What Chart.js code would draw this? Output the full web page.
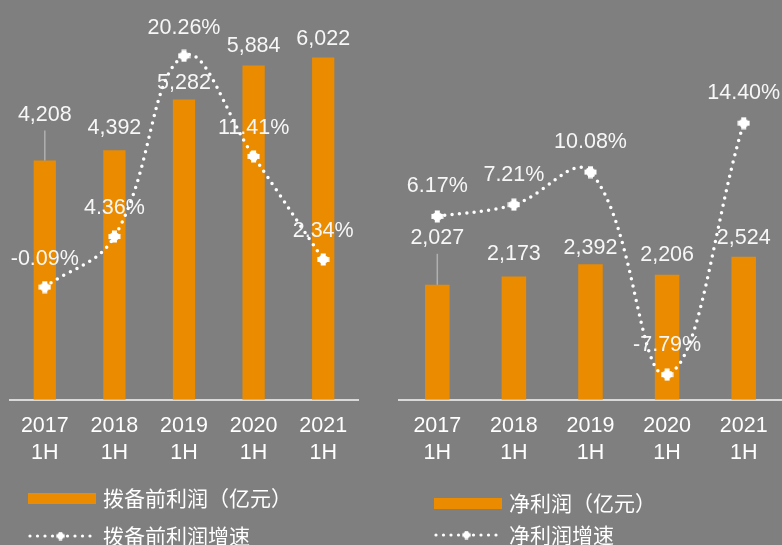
<!DOCTYPE html>
<html><head><meta charset="utf-8">
<script src="https://cdn.jsdelivr.net/npm/chart.js@4/dist/chart.umd.min.js"></script>
<style>
html,body{margin:0;padding:0;background:#7f7f7f;width:782px;height:545px;overflow:hidden;}
#wrap{position:relative;width:782px;height:545px;background:#7f7f7f;}
canvas.cv{position:absolute;top:0;}
.leg{position:absolute;font-family:"Noto Sans CJK SC";font-size:21px;line-height:21px;color:#fff;white-space:nowrap;}
.rect{position:absolute;width:68px;height:11px;background:#EA8B00;}
canvas.lg{position:absolute;}
</style></head>
<body><div id="wrap">
<canvas id="c1" class="cv" width="390" height="490" style="left:0"></canvas>
<canvas id="c2" class="cv" width="392" height="490" style="left:390px"></canvas>
<div class="rect" style="left:28px;top:493px"></div>
<div class="leg" id="l1" style="left:103px;top:487px"></div>
<canvas class="lg" id="d1" width="70" height="14" style="left:27px;top:529px"></canvas>
<div class="leg" id="l2" style="left:103px;top:525px"></div>
<div class="rect" style="left:434px;top:498px"></div>
<div class="leg" id="l3" style="left:509px;top:492px"></div>
<canvas class="lg" id="d2" width="70" height="14" style="left:433px;top:528px"></canvas>
<div class="leg" id="l4" style="left:509px;top:524px"></div>
</div>
<script>
const categories = [['2017','1H'],['2018','1H'],['2019','1H'],['2020','1H'],['2021','1H']];
const ppopValues = [4208, 4392, 5282, 5884, 6022];
const ppopGrowth = [-0.09, 4.36, 20.26, 11.41, 2.34];
const netValues = [2027, 2173, 2392, 2206, 2524];
const netGrowth = [6.17, 7.21, 10.08, -7.79, 14.40];
const ppopBarName = '拨备前利润（亿元）';
const ppopLineName = '拨备前利润增速';
const netBarName = '净利润（亿元）';
const netLineName = '净利润增速';

const ORANGE = '#EA8B00';

function makeMarker(size){
  const c = document.createElement('canvas'); c.width = c.height = size;
  const g = c.getContext('2d'); g.fillStyle = '#fff';
  const s = size/13;
  g.fillRect(4*s, 0.5*s, 5*s, 12*s);
  g.fillRect(0.5*s, 4*s, 12*s, 5*s);
  g.beginPath(); g.arc(6.5*s, 6.5*s, 4.6*s, 0, Math.PI*2); g.fill();
  return c;
}
const marker = makeMarker(13);

const labelPlugin = {
  id: 'valueLabels',
  afterDatasetsDraw(chart, args, o){
    const ctx = chart.ctx; ctx.save();
    ctx.font = '21.5px "Liberation Sans", Arial, sans-serif';
    ctx.fillStyle = '#f7f7f7'; ctx.textAlign = 'center'; ctx.textBaseline = 'middle';
    const lineMeta = chart.getDatasetMeta(0), barMeta = chart.getDatasetMeta(1);
    barMeta.data.forEach((el, i) => {
      const v = chart.data.datasets[1].data[i];
      const y = el.y - o.barOffsets[i];
      if (o.leader === i){
        ctx.strokeStyle = '#b0b0b0'; ctx.lineWidth = 1.5;
        ctx.beginPath(); ctx.moveTo(el.x, y + 16); ctx.lineTo(el.x, el.y); ctx.stroke();
      }
      ctx.fillText(v.toLocaleString('en-US'), el.x, y);
    });
    lineMeta.data.forEach((el, i) => {
      const v = chart.data.datasets[0].data[i];
      ctx.fillText(v.toFixed(2) + '%', el.x, el.y - o.lineOffset);
    });
    ctx.restore();
  }
};

function makeChart(id, barData, lineData, barName, lineName, pad, lab){
  return new Chart(document.getElementById(id), {
    type: 'bar',
    data: { labels: categories, datasets: [
      { type: 'line', label: lineName, data: lineData, yAxisID: 'y1', borderColor: '#fff', borderWidth: 3.5,
        borderDash: [0, 7.4], borderCapStyle: 'round', tension: 0.4, pointStyle: marker, pointRadius: 6,
        order: 0, fill: false, clip: false },
      { type: 'bar', label: barName, data: barData, yAxisID: 'y', backgroundColor: ORANGE,
        barPercentage: 0.32, categoryPercentage: 1, order: 1 }
    ]},
    options: {
      responsive: false, animation: false, devicePixelRatio: 1,
      layout: { padding: pad, autoPadding: false },
      plugins: { legend: { display: false }, tooltip: { enabled: false }, valueLabels: lab },
      scales: {
        x: { grid: { display: false }, border: { display: true, color: '#d9d9d9', width: 2 },
             ticks: { color: '#fff', font: { family: '"Liberation Sans", Arial', size: 21.5, lineHeight: 1.24 },
                      padding: 5, maxRotation: 0, autoSkip: false } },
        y: { display: false, min: 0, max: 7000 },
        y1: { display: false, min: -10, max: 25 }
      }
    },
    plugins: [labelPlugin]
  });
}

makeChart('c1', ppopValues, ppopGrowth, ppopBarName, ppopLineName,
  { left: 10, right: 32, top: 2, bottom: 19 },
  { barOffsets: [46, 22, 17, 19, 18], lineOffset: 28, leader: 0 });
makeChart('c2', netValues, netGrowth, netBarName, netLineName,
  { left: 9, right: 0, top: 3, bottom: 19 },
  { barOffsets: [47, 22, 16, 20, 19], lineOffset: 30, leader: 0 });

document.getElementById('l1').textContent = ppopBarName;
document.getElementById('l2').textContent = ppopLineName;
document.getElementById('l3').textContent = netBarName;
document.getElementById('l4').textContent = netLineName;

function legendLine(id){
  const c = document.getElementById(id), g = c.getContext('2d');
  g.fillStyle = '#fff';
  for (let x = 3; x <= 68; x += 7.5){
    if (Math.abs(x - 34) < 5) continue;
    g.beginPath(); g.arc(x, 7, 1.6, 0, Math.PI*2); g.fill();
  }
  g.drawImage(makeMarker(9), 29, 2.5);
}
legendLine('d1'); legendLine('d2');
</script>
</body></html>
